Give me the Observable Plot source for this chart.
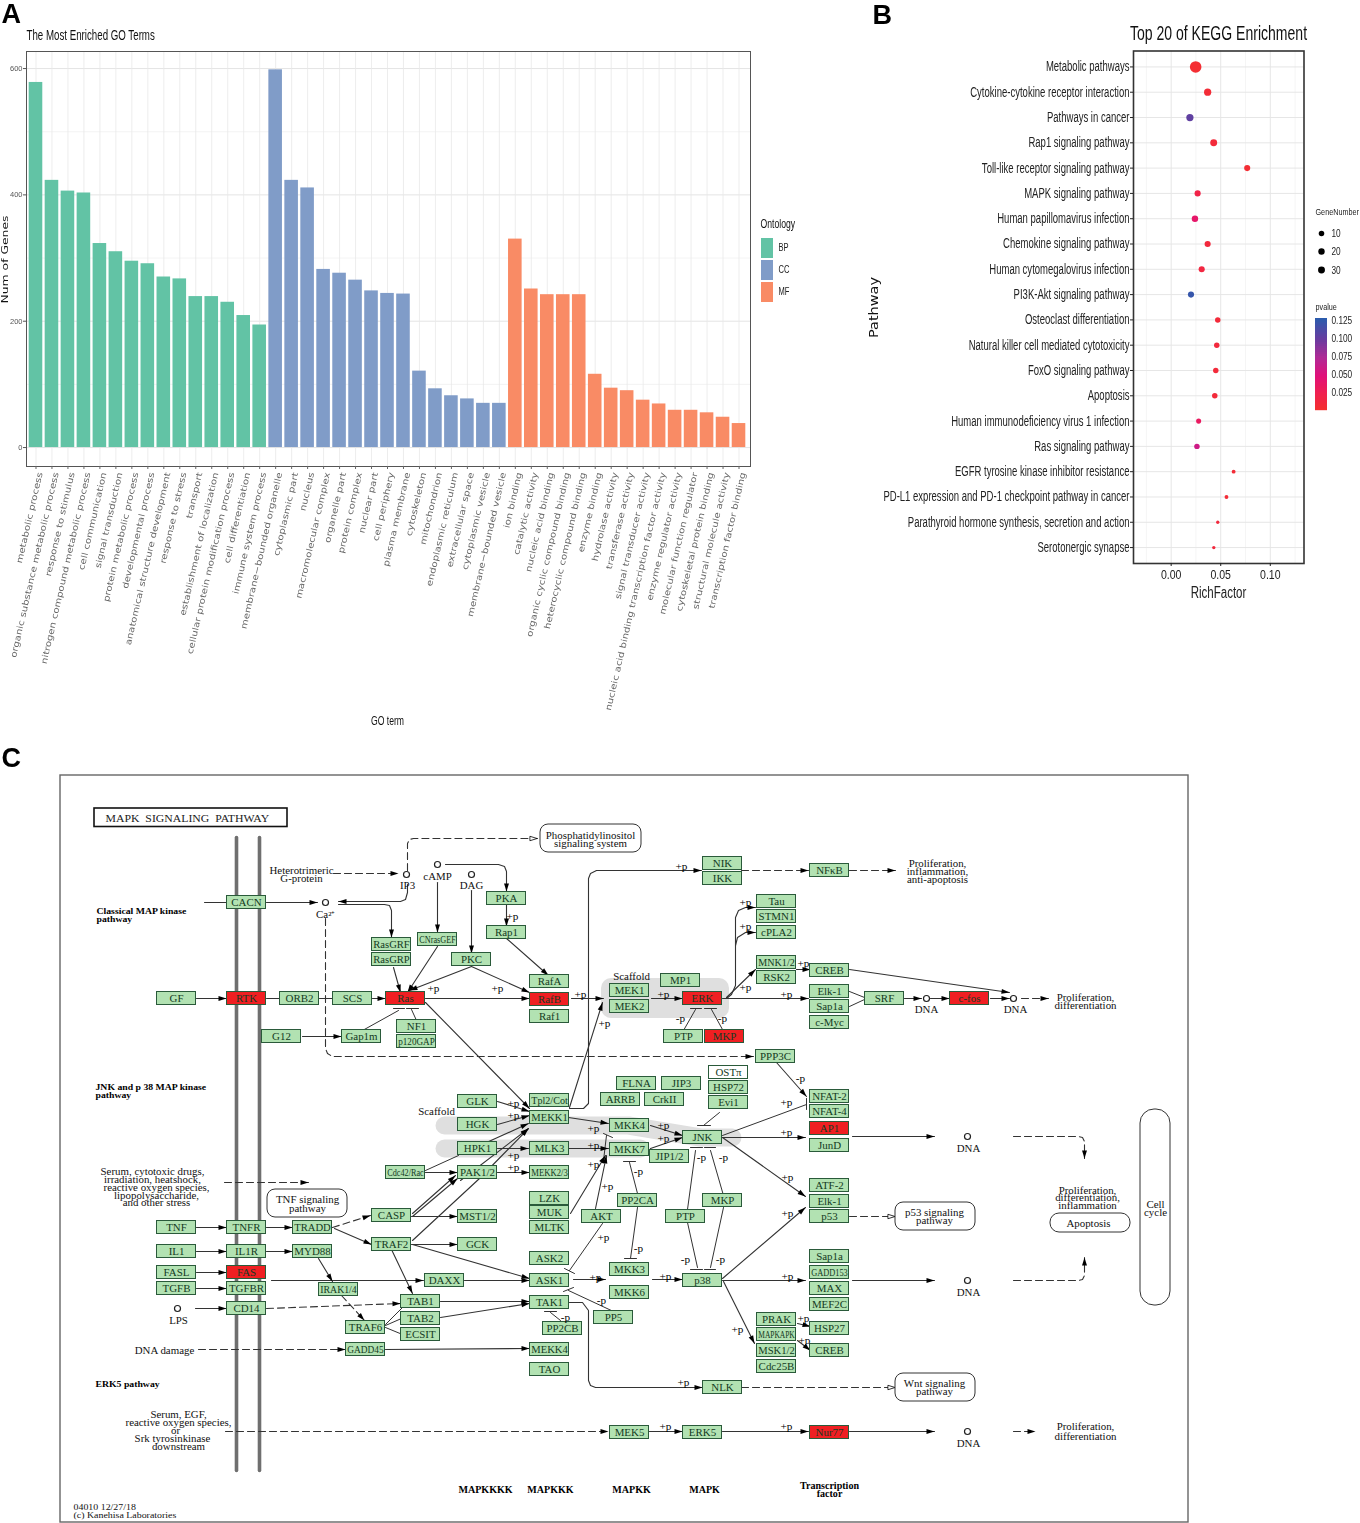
<!DOCTYPE html>
<html><head><meta charset="utf-8">
<script src="https://cdn.jsdelivr.net/npm/d3@7"></script>
<script src="https://cdn.jsdelivr.net/npm/@observablehq/plot@0.6"></script>
<style>
html,body{margin:0;padding:0;background:#fff;width:1360px;height:1523px;overflow:hidden}
#root{position:relative;width:1360px;height:1523px;filter:blur(.35px)}
#root svg{position:absolute;display:block;background:transparent;max-width:none}
</style></head><body><div id="root"></div>
<script>
// ---------- Panel A data ----------
const goTerms = ["metabolic process","organic substance metabolic process","response to stimulus","nitrogen compound metabolic process","cell communication","signal transduction","protein metabolic process","developmental process","anatomical structure development","response to stress","transport","establishment of localization","cellular protein modification process","cell differentiation","immune system process","membrane−bounded organelle","cytoplasmic part","nucleus","macromolecular complex","organelle part","protein complex","nuclear part","cell periphery","plasma membrane","cytoskeleton","mitochondrion","endoplasmic reticulum","extracellular space","cytoplasmic vesicle","membrane−bounded vesicle","ion binding","catalytic activity","nucleic acid binding","organic cyclic compound binding","heterocyclic compound binding","enzyme binding","hydrolase activity","transferase activity","signal transducer activity","nucleic acid binding transcription factor activity","enzyme regulator activity","molecular function regulator","cytoskeletal protein binding","structural molecule activity","transcription factor binding"];
const goCounts = [578,423,406,403,323,310,295,291,270,267,239,239,230,209,194,598,423,411,282,276,265,248,244,243,121,93,82,77,70,70,330,251,242,242,242,116,94,90,75,69,59,59,55,48,38];
const ontologies = ["BP","CC","MF"];
const ontologyColors = ["#62c3a5","#809cc8","#f98b65"];
// ---------- Panel B data ----------
const pathways = ["Metabolic pathways","Cytokine-cytokine receptor interaction","Pathways in cancer","Rap1 signaling pathway","Toll-like receptor signaling pathway","MAPK signaling pathway","Human papillomavirus infection","Chemokine signaling pathway","Human cytomegalovirus infection","PI3K-Akt signaling pathway","Osteoclast differentiation","Natural killer cell mediated cytotoxicity","FoxO signaling pathway","Apoptosis","Human immunodeficiency virus 1 infection","Ras signaling pathway","EGFR tyrosine kinase inhibitor resistance","PD-L1 expression and PD-1 checkpoint pathway in cancer","Parathyroid hormone synthesis, secretion and action","Serotonergic synapse"];
const richFactor = [.0247,.0368,.0189,.0429,.0767,.0267,.024,.0368,.0308,.020,.047,.046,.045,.044,.0277,.026,.063,.0558,.047,.043];
const geneNumber = [36,14,14,13,10,10,11,10,10,10,8,8,8,8,7,8,4,4,3,3];
const pValue = [.005,.008,.105,.01,.006,.02,.04,.012,.015,.125,.01,.012,.01,.01,.035,.06,.008,.008,.012,.012];
const pDomain = [.003,.025,.05,.075,.1,.13];
const pRange = ["#f42f30","#f0204f","#e0107a","#b02a96","#6a3a9f","#2b5cad"];
// ---------- Panel C data: [label, x, y, state] in diagram units ----------
const nodes = [["CACN",246,902],["GF",176,998],["RTK",246,998,"r"],["ORB2",299,998],["SCS",352,998],["Ras",405,998,"r"],["RasGRF",391,944],["RasGRP",391,959],["CNrasGEF",437,939],["PKC",471,959],["PKA",506,898],["Rap1",506,932],["RafA",549,981],["RafB",549,999,"r"],["Raf1",549,1016],["G12",281,1036],["Gap1m",361,1036],["NF1",416,1026],["p120GAP",416,1041],
["GLK",477,1101],["HGK",477,1124],["Tpl2/Cot",549,1100],["MEKK1",549,1117],["HPK1",477,1148],["MLK3",549,1148],["PAK1/2",477,1172],["MEKK2/3",549,1172],["Cdc42/Rac",405,1172],["LZK",549,1198],["MUK",549,1212],["MLTK",549,1227],["MKK4",629,1125],["MKK7",629,1149],["FLNA",636,1083],["JIP3",681,1083],["ARRB",620,1099],["CrkII",664,1099],["OSTπ",728,1072,"w"],["HSP72",728,1087],["Evi1",728,1102],["JNK",702,1137],["JIP1/2",669,1156],["PP2CA",637,1200],["MKP",722,1200],["PTP",685,1216],["AKT",601,1216],["ASK2",549,1258],["ASK1",549,1280],["TAK1",549,1302],["PP2CB",562,1328],["MEKK4",549,1349],["TAO",549,1369],["MKK3",629,1269],["MKK6",629,1292],["PP5",613,1317],["p38",702,1280],["NLK",722,1387],
["PRAK",776,1319],["MAPKAPK",776,1334],["MSK1/2",776,1350],["Cdc25B",776,1366],["HSP27",829,1328],["CREB",829,1350],["NIK",722,863],["IKK",722,878],["NFκB",829,870],["Tau",776,901],["STMN1",776,916],["cPLA2",776,932],["MNK1/2",776,962],["RSK2",776,977],["CREB",829,970],["Elk-1",829,991],["Sap1a",829,1006],["c-Myc",829,1022],["SRF",884,998],["c-fos",969,998,"r"],["MP1",680,980],["MEK1",629,990],["MEK2",629,1006],["ERK",702,998,"r"],["PTP",683,1036],["MKP",724,1036,"r"],["PPP3C",775,1056],["NFAT-2",829,1096],["NFAT-4",829,1111],["AP1",829,1128,"r"],["JunD",829,1145],["ATF-2",829,1185],["Elk-1",829,1201],["p53",829,1216],["Sap1a",829,1256],["GADD153",829,1272],["MAX",829,1288],["MEF2C",829,1304],["Nur77",829,1432,"r"],["MEK5",629,1432],["ERK5",702,1432],
["TNF",176,1227],["TNFR",246,1227],["TRADD",312,1227],["CASP",391,1215],["TRAF2",391,1244],["MST1/2",477,1216],["GCK",477,1244],["IL1",176,1251],["IL1R",246,1251],["MYD88",312,1251],["FASL",176,1272],["FAS",246,1272,"r"],["TGFB",176,1288],["TGFBR",246,1288],["CD14",246,1308],["DAXX",444,1280],["IRAK1/4",338,1289],["TAB1",420,1301],["TAB2",420,1318],["ECSIT",420,1334],["TRAF6",365,1327],["GADD45",365,1349]];
const arrows = [[196,998,226,998],[372,998,385,998],[425,998,529,998],[571,998,603,998],[651,998,682,998],[722,998,808,998],[904,998,921,998],[930,998,949,998],[990,998,1009,998],[849,969,1009,992],
[726,998,731,994,735,985,735,917,738,910,745,907,755,907],[735,945,737,937,745,932,755,932],[726,997,755,969],[796,969,810,969],
[569,1108,583,1108,588,1103,588,878,590,873,596,870,701,870],[569,1302,582,1302,588,1310,588,1380,590,1385,595,1387,702,1387],
[776,1062,806,1096],[852,1136,934,1136],[852,1280,934,1280],[849,1431,934,1431],[266,902,317,902],
[407,884,407,892,405,899,400,901,338,901],[338,904,384,904,389,905,391,910,391,937],[445,864,498,864,504,866,506,871,506,891],[437,882,437,932],[471,890,471,953],[506,904,506,926],[506,938,548,975],[393,967,400,992],[437,946,407,992],[471,966,409,990],[471,966,529,992],[302,1036,341,1036],[425,1002,529,1108],[569,1107,602,1002],
[497,1101,529,1111],[497,1124,529,1115],[486,1142,528,1123],[497,1148,528,1148],[425,1172,457,1172],[497,1172,529,1172],[460,1180,528,1128],[412,1213,455,1175],[412,1216,457,1178],[411,1216,457,1216],[412,1240,479,1178,528,1128],[411,1244,457,1244],[412,1244,529,1278],[391,1249,412,1293],[334,1228,371,1244],
[196,1227,226,1227],[196,1251,226,1251],[196,1272,226,1272],[196,1288,226,1288],[195,1308,226,1308],[266,1227,292,1227],[266,1251,292,1251],[318,1258,332,1281],[271,1280,423,1280],[464,1280,529,1280],[440,1301,529,1301],[440,1317,529,1303],[385,1349,529,1348],
[568,1117,608,1123],[568,1148,608,1148],[650,1125,682,1135],[650,1148,682,1137],[722,1137,805,1137],[722,1137,805,1196],[722,1278,805,1207],[722,1280,805,1280],[723,1281,754,1343],[797,1323,810,1326],[797,1340,810,1350],[570,1213,605,1155],[595,1208,606,1155],[573,1279,605,1279],[652,1279,682,1279],[649,1431,682,1431],[722,1431,808,1431]];
const dashedArrows = [[741,870,808,870],[849,870,895,870],[1021,998,1048,998],[333,873,398,873],[325,918,325,1048,327,1053,332,1056,753,1056],[266,1308,400,1303],[332,1227,370,1215],[224,1182,308,1182],[198,1349,345,1349],[225,1431,608,1431],[1013,1136,1078,1136,1082,1137,1084,1141,1084,1158],[1013,1280,1078,1280,1082,1279,1084,1275,1084,1257],[1013,1431,1035,1431],[341,1295,364,1320]];
const dashedOpenArrows = [[407,870,407,843,409,839,413,838,537,838],[849,1216,895,1216],[741,1387,895,1387]];
const plainLines = [[204,902,226,902],[266,998,280,998],[319,998,333,998],[849,991,864,997],[849,1006,864,999],[362,1030,398,1010],[416,1020,411,1009],[683,1030,695,1009],[722,1029,711,1009],[806,1104,722,1135],[719,1112,703,1125],[695,1150,687,1209],[710,1150,723,1195],[687,1222,697,1267],[723,1207,710,1267],[629,1162,637,1193],[637,1207,630,1258],[602,1223,569,1270],[613,1311,568,1290],[560,1320,550,1312],[425,1170,458,1155],[385,1324,402,1307],[385,1325,401,1318],[385,1327,402,1334],[606,1135,603,1160]];
const bars = [[393,1008,404,1008],[406,1008,418,1008],[690,1008,701,1008],[704,1008,716,1008],[806,1098,806,1109],[697,1125,710,1125],[690,1147,702,1147],[704,1147,715,1147],[690,1269,702,1269],[704,1269,715,1269],[623,1161,635,1161],[624,1258,636,1258],[564,1268,574,1273],[563,1291,573,1287],[544,1311,556,1311],[603,1133,612,1137]];
const phospho = ["+p",433,988,"+p",497,988,"+p",580,994,"+p",604,1023,"+p",512,916,"+p",681,866,"+p",745,902,"+p",745,926,"+p",803,963,"+p",663,994,"+p",745,987,"+p",786,994,"+p",786,1102,"+p",786,1132,"+p",663,1125,"+p",663,1138,"-p",680,1018,"-p",722,1018,"-p",800,1078,"+p",513,1103,"+p",513,1115,"+p",513,1155,"+p",513,1167,"+p",593,1128,"+p",593,1145,"+p",593,1164,"+p",607,1186,"-p",638,1171,"-p",701,1157,"-p",723,1157,"+p",787,1177,"+p",787,1213,"-p",638,1248,"-p",685,1259,"-p",720,1259,"+p",603,1237,"+p",595,1277,"+p",665,1276,"+p",787,1276,"+p",737,1329,"-p",601,1300,"-p",565,1317,"+p",683,1382,"+p",803,1318,"+p",804,1340,"+p",665,1426,"+p",786,1426];
const compounds = [[406,874],[437,864],[471,874],[325,902],[177,1308],[926,998],[1013,998],[967,1136],[967,1280],[967,1431]];
const roundedBoxes = [[540,824,641,852,8],[267,1189,347,1217,8],[895,1202,975,1230,8],[895,1373,975,1401,8],[1050,1213,1130,1232,9],[1140,1109,1170,1305,14]];
const scaffoldBands = [[444,1125,628,1125,700,1137,732,1137],[444,1148,640,1148]];
const diagramLabels = [["Heterotrimeric",301,870],["G-protein",301,878],["IP3",407,885],["cAMP",437,876],["DAG",471,885],["Ca²⁺",325,914],["Scaffold",631,976],["Scaffold",436,1111],["Phosphatidylinositol",590,835],["signaling system",590,843],["Proliferation,",937,863],["inflammation,",937,871],["anti-apoptosis",937,879],["Proliferation,",1085,997],["differentiation",1085,1005],["Serum, cytotoxic drugs,",152,1171],["irradiation, heatshock,",152,1179],["reactive oxygen species,",156,1187],["lipopolysaccharide,",156,1195],["and other stress",156,1202],["TNF signaling",307,1199],["pathway",307,1208],["p53 signaling",934,1212],["pathway",934,1220],["Wnt signaling",934,1383],["pathway",934,1391],["Apoptosis",1088,1223],["Proliferation,",1087,1190],["differentiation,",1087,1197],["inflammation",1087,1205],["Cell",1155,1204],["cycle",1155,1212],["DNA",926,1009],["DNA",1015,1009],["DNA",968,1148],["DNA",968,1292],["DNA",968,1443],["LPS",178,1320],["DNA damage",164,1350],["Serum, EGF,",178,1414],["reactive oxygen species,",178,1422],["or",175,1430],["Srk tyrosinkinase",172,1438],["downstream",178,1446],["Proliferation,",1085,1426],["differentiation",1085,1436]];
const boldCenter = [["MAPKKKK",485,1489],["MAPKKK",550,1489],["MAPKK",631,1489],["MAPK",704,1489],["Transcription",829,1485],["factor",829,1493]];
const boldLeft = [["Classical MAP kinase",96,911],["pathway",96,919],["JNK and p 38 MAP kinase",95,1087],["pathway",95,1095],["ERK5 pathway",95,1384]];

// ---------- helpers ----------
const SERIF = "Liberation Serif", NARROW = "Liberation Sans", WIDE = "DejaVu Sans";
const root = document.getElementById("root");
function place(svg, left, top){ svg.style.left = left+"px"; svg.style.top = top+"px"; root.appendChild(svg); }
// squeeze or stretch rendered text along its baseline, as the reference image was resampled
function fit(svg, selector, factor, cap){
  svg.querySelectorAll(selector).forEach(t=>{
    let len = t.getComputedTextLength()*factor;
    if (cap && len>cap) len = cap;
    t.setAttribute("textLength",len.toFixed(2));
    t.setAttribute("lengthAdjust","spacingAndGlyphs");
  });
}
const segs = (list, base=0) => list.flatMap((p,i)=> d3.range(0,p.length,2).map(k=>({id:base+i,x:p[k],y:p[k+1]})));
const slender = {draw(c,size){const s=Math.sqrt(size/Math.PI); c.moveTo(0,-s); c.lineTo(s*.62,s); c.lineTo(-s*.62,s); c.closePath();}};
const heads = (list,r=4)=> list.map(p=>{const n=p.length,dx=p[n-2]-p[n-4],dy=p[n-1]-p[n-3],L=Math.hypot(dx,dy);return {x:p[n-2]-dx/L*r,y:p[n-1]-dy/L*r,a:Math.atan2(dx,-dy)*180/Math.PI};});
const T = (rows,o)=>Plot.text(rows,{text:d=>d[0],x:d=>d[1],y:d=>d[2],...o});

// ---------- Page layer: Panel C, legends, titles ----------
const phos = d3.range(0,phospho.length,3).map(i=>[phospho[i],phospho[i+1],phospho[i+2]]);
const nodeFill = d=>d[3]==="r"?"#f01f22":d[3]==="w"?"#ffffff":"#b2e2b2";
const swatchY = [238,260,282];
const rampLevels = d3.range(0,46);
const pColor = d3.scaleLinear().domain(pDomain).range(pRange);
const corner = r => Plot.rect(roundedBoxes.filter(d=>d[4]===r),{x1:d=>d[0],y1:d=>d[1],x2:d=>d[2],y2:d=>d[3],rx:r,fill:"white",stroke:"#333",strokeWidth:1});
const page = Plot.plot({
  width:1360,height:1523,margin:0,
  x:{domain:[0,1360],range:[0,1360],axis:null},
  y:{domain:[0,1523],range:[0,1523],axis:null},
  marks:[
    Plot.rect([[60,775,1188,1522]],{x1:d=>d[0],y1:d=>d[1],x2:d=>d[2],y2:d=>d[3],fill:"white",stroke:"#666",strokeWidth:1.4}),
    Plot.rect([[601,978,729,1018]],{x1:d=>d[0],y1:d=>d[1],x2:d=>d[2],y2:d=>d[3],fill:"#dfdfdf",rx:10}),
    Plot.line(segs(scaffoldBands),{x:"x",y:"y",z:"id",stroke:"#dfdfdf",strokeWidth:18,strokeLinecap:"round",strokeLinejoin:"round"}),
    Plot.rect([[94,808,287,826.5]],{x1:d=>d[0],y1:d=>d[1],x2:d=>d[2],y2:d=>d[3],fill:"white",stroke:"#111",strokeWidth:1.6}),
    Plot.line(segs([[236,837,236,1470],[259,837,259,1470]]),{x:"x",y:"y",z:"id",stroke:"#6f6f6f",strokeWidth:3.6}),
    Plot.line(segs(plainLines),{x:"x",y:"y",z:"id",stroke:"#333",strokeWidth:1}),
    Plot.line(segs(bars),{x:"x",y:"y",z:"id",stroke:"#333",strokeWidth:1}),
    Plot.line(segs(arrows),{x:"x",y:"y",z:"id",stroke:"#333",strokeWidth:1.1}),
    Plot.line(segs(dashedArrows),{x:"x",y:"y",z:"id",stroke:"#333",strokeWidth:1.1,strokeDasharray:"7 4"}),
    Plot.line(segs(dashedOpenArrows),{x:"x",y:"y",z:"id",stroke:"#333",strokeWidth:1.1,strokeDasharray:"7 4"}),
    Plot.dot(heads(arrows.concat(dashedArrows)),{x:"x",y:"y",rotate:"a",symbol:slender,r:4,fill:"#000",stroke:"none"}),
    Plot.dot(heads(dashedOpenArrows),{x:"x",y:"y",rotate:"a",symbol:slender,r:3.6,fill:"#fff",stroke:"#000",strokeWidth:.8}),
    Plot.dot(compounds,{x:d=>d[0],y:d=>d[1],r:3,fill:"#fff",stroke:"#222",strokeWidth:1.2}),
    corner(8),corner(9),corner(14),
    Plot.rect(nodes,{x1:d=>d[1]-19.5,x2:d=>d[1]+19.5,y1:d=>d[2]-6.5,y2:d=>d[2]+6.5,fill:nodeFill,stroke:"#2a5a3a",strokeWidth:1}),
    T(nodes,{className:"node-label",fontFamily:SERIF,fontSize:10.5,fill:"#123a22"}),
    T(phos,{className:"s112",fontFamily:SERIF,fontSize:10,fill:"#000"}),
    T(diagramLabels,{className:"s116",fontFamily:SERIF,fontSize:9.4,fill:"#111"}),
    T(boldCenter,{className:"s106",fontFamily:SERIF,fontSize:9.5,fontWeight:"bold",fill:"#000"}),
    T(boldLeft,{className:"s106",fontFamily:SERIF,fontSize:9.2,fontWeight:"bold",fill:"#000",textAnchor:"start"}),
    T([["MAPK  SIGNALING  PATHWAY",105,818]],{className:"s110",fontFamily:SERIF,fontSize:10.7,fill:"#222",textAnchor:"start"}),
    T([["04010 12/27/18",73,1507],["(c) Kanehisa Laboratories",73,1515]],{className:"s110",fontFamily:SERIF,fontSize:9,fill:"#111",textAnchor:"start"}),
    // panel letters
    T([["A",1,14],["C",1,758]],{fontFamily:"Liberation Sans",fontWeight:"bold",fontSize:27,fill:"#000",textAnchor:"start"}),
    T([["B",872,15]],{fontFamily:"Liberation Sans",fontWeight:"bold",fontSize:27,fill:"#000",textAnchor:"start"}),
    // panel A annotations
    T([["The Most Enriched GO Terms",26,35]],{className:"narrow67",fontFamily:NARROW,fontSize:14.5,fill:"#111",textAnchor:"start"}),
    T([["GO term",387,721]],{className:"narrow",fontFamily:NARROW,fontSize:12,fill:"#111"}),
    Plot.text(["Num of Genes"],{className:"numgenes",text:d=>d,x:()=>5,y:()=>259,rotate:-90,fontFamily:WIDE,fontSize:8,fill:"#111"}),
    T([["Ontology",760,224]],{className:"narrow",fontFamily:NARROW,fontSize:12,fill:"#111",textAnchor:"start"}),
    Plot.rect(ontologies,{x1:()=>761,x2:()=>773,y1:(d,i)=>swatchY[i],y2:(d,i)=>swatchY[i]+20,fill:(d,i)=>ontologyColors[i]}),
    Plot.text(ontologies,{className:"narrow",text:d=>d,x:()=>778,y:(d,i)=>swatchY[i]+9,fontFamily:NARROW,fontSize:10.5,fill:"#222",textAnchor:"start"}),
    // panel B annotations
    T([["Top 20 of KEGG Enrichment",1218,33]],{className:"narrow",fontFamily:NARROW,fontSize:19.5,fill:"#111"}),
    T([["RichFactor",1218,592]],{className:"narrow",fontFamily:NARROW,fontSize:16,fill:"#222"}),
    Plot.text(["Pathway"],{className:"pathway",text:d=>d,x:()=>874,y:()=>307,rotate:-90,fontFamily:WIDE,fontSize:11.5,fill:"#111"}),
    T([["GeneNumber",1315,212],["pvalue",1315,307]],{className:"narrow85",fontFamily:NARROW,fontSize:8.5,fill:"#222",textAnchor:"start"}),
    Plot.dot([[10,233,2.9],[20,251,3.9],[30,269.5,4.5]],{x:()=>1321,y:d=>d[1],r:d=>d[2],fill:"#000"}),
    Plot.text([[10,233],[20,251],[30,269.5]],{className:"narrow",text:d=>String(d[0]),x:()=>1331,y:d=>d[1],fontFamily:NARROW,fontSize:11.5,fill:"#222",textAnchor:"start"}),
    Plot.rect(rampLevels,{x1:()=>1315,x2:()=>1327,y1:d=>318+d*2,y2:d=>320.2+d*2,fill:d=>pColor(.1295-d*(.1265/45))}),
    Plot.text([".125",".100",".075",".050",".025"],{className:"narrow",text:d=>"0"+d,x:()=>1331,y:(d,i)=>320+i*18,fontFamily:NARROW,fontSize:11.5,fill:"#222",textAnchor:"start"}),
  ]
});
place(page,0,0);
fit(page,".node-label text",1.04,36.5);
fit(page,".s112 text",1.12);
fit(page,".s116 text",1.16);
fit(page,".s106 text",1.06);
fit(page,".s110 text",1.1);
fit(page,".narrow text",.72);
fit(page,".narrow67 text",.67);
fit(page,".narrow85 text",.85);
page.querySelectorAll(".numgenes text").forEach(t=>{t.setAttribute("textLength",88);t.setAttribute("lengthAdjust","spacingAndGlyphs");});
page.querySelectorAll(".pathway text").forEach(t=>{t.setAttribute("textLength",61);t.setAttribute("lengthAdjust","spacingAndGlyphs");});

// ---------- Panel A ----------
const goData = goTerms.map((term,i)=>({term,count:goCounts[i],ontology:ontologies[Math.floor(i/15)]}));
const chartA = Plot.plot({
  width:760,height:740,marginLeft:26,marginRight:10,marginTop:51,marginBottom:274,
  style:{background:"transparent"},
  x:{domain:goTerms,paddingInner:.15,paddingOuter:.075,round:false,insetLeft:1.5,insetRight:3.5,axis:null},
  y:{domain:[-30,627],axis:null},
  color:{domain:ontologies,range:ontologyColors},
  marks:[
    Plot.ruleY([100,300,500],{stroke:"#f0f0f0",strokeWidth:.8}),
    Plot.ruleY([0,200,400,600],{stroke:"#e4e4e4",strokeWidth:1}),
    Plot.ruleX(goTerms,{x:d=>d,stroke:"#e8e8e8",strokeWidth:.8}),
    Plot.barY(goData,{x:"term",y:"count",fill:"ontology"}),
    Plot.frame({stroke:"#555",strokeWidth:1}),
    Plot.axisY({className:"narrow-y",ticks:[0,200,400,600],tickFormat:d=>d,tickSize:3,tickPadding:1,label:null,fontFamily:NARROW,fontSize:7.5,color:"#555"}),
    Plot.axisX({className:"go-x",tickRotate:-77,tickSize:3,tickPadding:3,label:null,fontFamily:WIDE,fontSize:8.4,color:"#666",anchor:"bottom"}),
  ]
});
place(chartA,0,0);
fit(chartA,".go-x text",1.22);
chartA.querySelectorAll(".go-x text").forEach(t=>t.setAttribute("transform","translate(4,0) "+t.getAttribute("transform")));

// ---------- Panel B ----------
const keggData = pathways.map((name,i)=>({name,rich:richFactor[i],genes:geneNumber[i],p:pValue[i]}));
const chartB = Plot.plot({
  width:500,height:610,marginLeft:273,marginRight:56.5,marginTop:50.5,marginBottom:47,
  style:{background:"transparent"},
  x:{domain:[-.038,.134],axis:null},
  y:{type:"point",domain:pathways,padding:.63,round:false,axis:null},
  r:{type:"sqrt",domain:[0,36],range:[0,5.8]},
  color:{type:"linear",domain:pDomain,range:pRange},
  marks:[
    Plot.ruleX([-.025,.025,.075,.125],{stroke:"#f3f3f3",strokeWidth:.8}),
    Plot.ruleX([0,.05,.1],{stroke:"#e6e6e6",strokeWidth:1}),
    Plot.ruleY(pathways,{y:d=>d,stroke:"#e6e6e6",strokeWidth:1}),
    Plot.dot(keggData,{x:"rich",y:"name",r:"genes",fill:"p"}),
    Plot.frame({stroke:"#333",strokeWidth:1.6}),
    Plot.axisY({className:"kegg-y",tickSize:3,tickPadding:1,label:null,fontFamily:NARROW,fontSize:14,color:"#222"}),
    Plot.axisX({className:"kegg-x",ticks:[0,.05,.1],tickFormat:d3.format(".2f"),tickSize:3,tickPadding:3,label:null,fontFamily:NARROW,fontSize:13.5,color:"#222"}),
  ]
});
place(chartB,860,0);
fit(chartB,".kegg-y text",.68);
fit(chartB,".kegg-x text",.78);
</script></body></html>
